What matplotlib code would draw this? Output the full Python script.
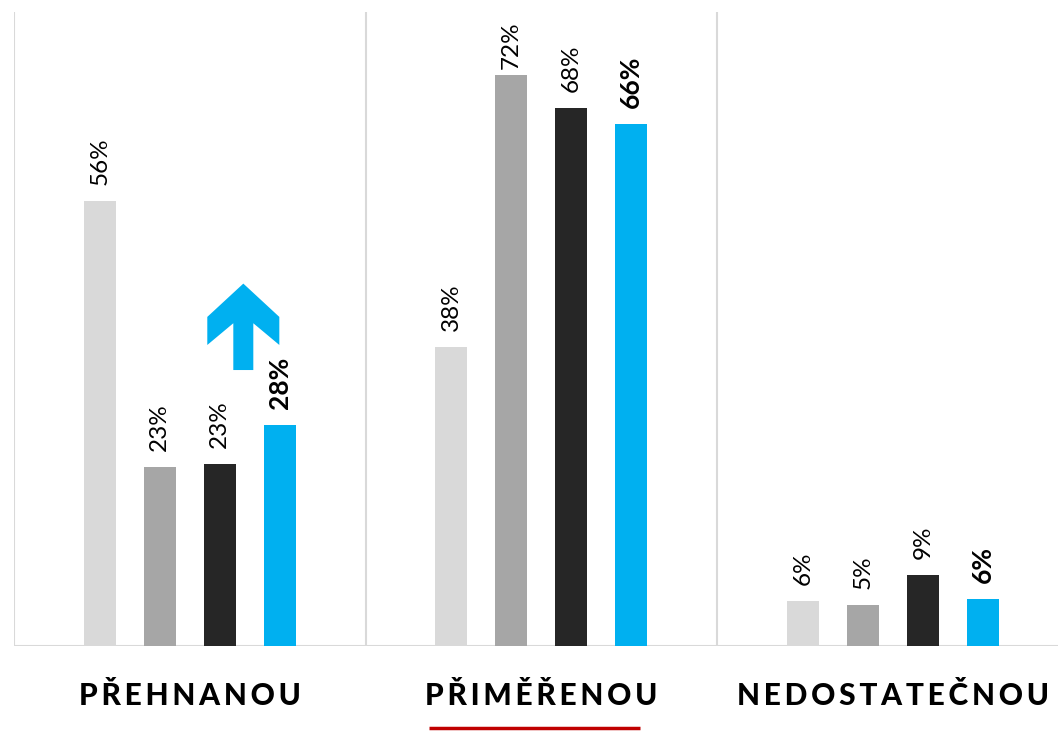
import matplotlib
matplotlib.use("Agg")
import matplotlib.pyplot as plt
from matplotlib.patches import Polygon
from matplotlib.lines import Line2D
import numpy as np

# ---- data ----
categories = ["PŘEHNANOU", "PŘIMĚŘENOU", "NEDOSTATEČNOU"]
series_colors = ["#D9D9D9", "#A6A6A6", "#262626", "#00B0F0"]
series_values = [
    [56.1, 37.7, 5.7],
    [22.6, 72.0, 5.2],
    [22.9, 67.8, 9.0],
    [27.9, 65.8, 5.9],
]
series_labels = [
    ["56%", "38%", "6%"],
    ["23%", "72%", "5%"],
    ["23%", "68%", "9%"],
    ["28%", "66%", "6%"],
]
highlight_series = 3
underlined_category = 1

W, H = 1058, 731
fig = plt.figure(figsize=(W / 100, H / 100), dpi=100)
ax_left, ax_bottom = 14 / W, (H - 646) / H
ax = fig.add_axes([ax_left, ax_bottom, 1044 / W, (646 - 11.6) / H])

ymax = 80
ax.set_ylim(0, ymax)
ax.set_xlim(-0.5, 2.47)

bar_w = 0.091
step = 0.1707
n = len(series_values)
x = np.arange(len(categories))
px_per_unit = (646 - 11.6) / ymax

for i, (vals, col, labs) in enumerate(zip(series_values, series_colors, series_labels)):
    xs = x + (i - (n - 1) / 2) * step
    ax.bar(xs, vals, width=bar_w, color=col, zorder=3)
    for xi, v, lab in zip(xs, vals, labs):
        top_px = v * px_per_unit
        avail = (ymax * px_per_unit) - top_px
        off = 16 if avail > 70 else 6
        bold = i == highlight_series
        ax.annotate(lab, (xi, v), xytext=(0, off * 0.72), textcoords="offset points",
                    rotation=90, ha="center", va="bottom",
                    fontsize=19 if bold else 17.5, family="Lato",
                    fontweight="bold" if bold else "normal",
                    color="black", zorder=4)

# gridlines between categories and baseline
for b in np.arange(-0.5, len(categories) - 0.4, 1.0):
    ax.axvline(b, color="#D9D9D9", lw=1.5, zorder=1)
ax.axhline(0, color="#D9D9D9", lw=1.5, zorder=2)

for s in ax.spines.values():
    s.set_visible(False)
ax.set_yticks([])
spaced = ["\u2009".join(c) for c in categories]
ax.set_xticks(x)
ax.set_xticklabels(spaced, fontsize=21.5, fontweight=900, family="Lato", color="black")
ax.tick_params(axis="x", length=0, pad=26)

# red underline below highlighted category
ax.add_line(Line2D([underlined_category - 0.32, underlined_category + 0.28], [-10.4, -10.4],
                   color="#C00000", lw=2.5, clip_on=False, solid_capstyle="butt"))

# blue up arrow annotation in first category
ax_x = 0.1524
shape = [(0.0, 45.7), (-0.1025, 41.5), (-0.1025, 37.96), (-0.0285, 40.7), (-0.0285, 34.8),
         (0.0284, 34.8), (0.0284, 40.7), (0.1024, 37.96), (0.1024, 41.5)]
arrow = Polygon([(ax_x + dx, yy) for dx, yy in shape], closed=True,
                facecolor="#00B0F0", edgecolor="none", zorder=5)
ax.add_patch(arrow)

fig.savefig("out.png", dpi=100, facecolor="white")
